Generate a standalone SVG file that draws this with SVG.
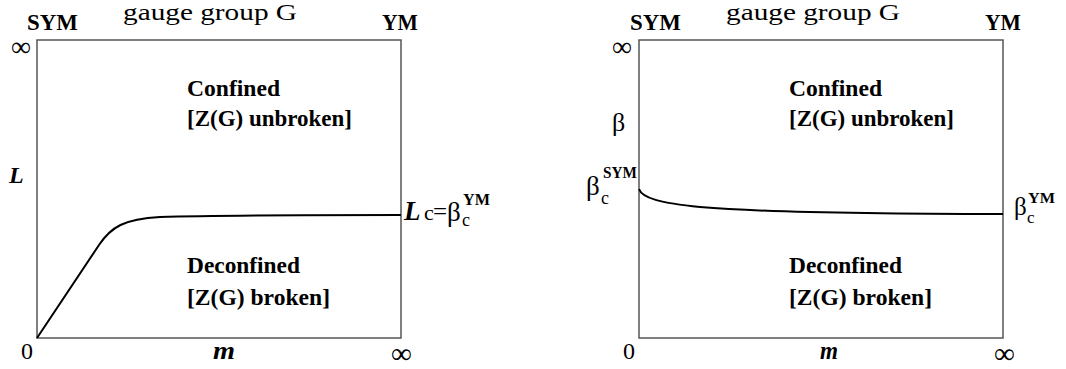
<svg xmlns="http://www.w3.org/2000/svg" width="1066" height="369" viewBox="0 0 1066 369">
<style>
.t{font-family:"Liberation Serif","Times New Roman",serif;fill:#000}
.b{font-weight:bold}
.bi{font-weight:bold;font-style:italic}
.box{fill:none;stroke:#555;stroke-width:1.5}
.curve{fill:none;stroke:#000;stroke-width:2}
</style>
<rect width="1066" height="369" fill="#fff"/>
<g id="panel-left">
  <rect class="box" x="37" y="40" width="364" height="298"/>
  <text class="t" x="123" y="20" font-size="23" textLength="174" lengthAdjust="spacingAndGlyphs">gauge group G</text>
  <text class="t b" x="27" y="30" font-size="23" textLength="51" lengthAdjust="spacingAndGlyphs">SYM</text>
  <text class="t b" x="382" y="30" font-size="23" textLength="36" lengthAdjust="spacingAndGlyphs">YM</text>
  <text class="t" x="11" y="56" font-size="28">∞</text>
  <text class="t bi" x="9" y="183" font-size="24">L</text>
  <text class="t" x="21" y="359" font-size="24">0</text>
  <text class="t bi" x="213" y="359" font-size="25" textLength="22" lengthAdjust="spacingAndGlyphs">m</text>
  <text class="t" x="391" y="363" font-size="29">∞</text>
  <text class="t b" x="187" y="96" font-size="22.5" textLength="93" lengthAdjust="spacingAndGlyphs">Confined</text>
  <text class="t b" x="187" y="126" font-size="22.5" textLength="165" lengthAdjust="spacingAndGlyphs">[Z(G) unbroken]</text>
  <text class="t b" x="187" y="273" font-size="22.5" textLength="113" lengthAdjust="spacingAndGlyphs">Deconfined</text>
  <text class="t b" x="187" y="305" font-size="22.5" textLength="143" lengthAdjust="spacingAndGlyphs">[Z(G) broken]</text>
  <text class="t bi" x="404" y="220" font-size="27">L</text>
  <text class="t" x="424" y="220" font-size="22">c</text>
  <text class="t" x="433" y="220" font-size="25">=</text>
  <text class="t" x="447" y="221" font-size="27">β</text>
  <text class="t" x="462" y="226" font-size="18">c</text>
  <text class="t b" x="463" y="205" font-size="16" textLength="27" lengthAdjust="spacingAndGlyphs">YM</text>
</g>
<g id="panel-right">
  <rect class="box" x="639" y="40" width="364" height="298"/>
  <text class="t" x="726" y="20" font-size="23" textLength="174" lengthAdjust="spacingAndGlyphs">gauge group G</text>
  <text class="t b" x="630" y="30" font-size="23" textLength="51" lengthAdjust="spacingAndGlyphs">SYM</text>
  <text class="t b" x="985" y="30" font-size="23" textLength="36" lengthAdjust="spacingAndGlyphs">YM</text>
  <text class="t" x="612" y="56" font-size="28">∞</text>
  <text class="t" x="612" y="131" font-size="26">β</text>
  <text class="t" x="623" y="359" font-size="24">0</text>
  <text class="t bi" x="820" y="359" font-size="25" textLength="18" lengthAdjust="spacingAndGlyphs">m</text>
  <text class="t" x="994" y="363" font-size="29">∞</text>
  <text class="t b" x="789" y="96" font-size="22.5" textLength="93" lengthAdjust="spacingAndGlyphs">Confined</text>
  <text class="t b" x="789" y="126" font-size="22.5" textLength="165" lengthAdjust="spacingAndGlyphs">[Z(G) unbroken]</text>
  <text class="t b" x="789" y="273" font-size="22.5" textLength="113" lengthAdjust="spacingAndGlyphs">Deconfined</text>
  <text class="t b" x="789" y="305" font-size="22.5" textLength="143" lengthAdjust="spacingAndGlyphs">[Z(G) broken]</text>
  <text class="t" x="586" y="195" font-size="27">β</text>
  <text class="t" x="601" y="204" font-size="18">c</text>
  <text class="t b" x="603" y="178" font-size="16" textLength="34" lengthAdjust="spacingAndGlyphs">SYM</text>
  <text class="t" x="1014" y="215" font-size="25">β</text>
  <text class="t" x="1027" y="223" font-size="17">c</text>
  <text class="t b" x="1028" y="203" font-size="15" textLength="27" lengthAdjust="spacingAndGlyphs">YM</text>
</g>
<g id="connectors">
  <path class="curve" d="M37,338 L99,245 C111,227 124,219 160,217 C220,215 300,215 401,215"/>
  <path class="curve" d="M639,189 C642,198 660,203 700,207 C760,212 850,214 1003,214"/>
</g>
</svg>
